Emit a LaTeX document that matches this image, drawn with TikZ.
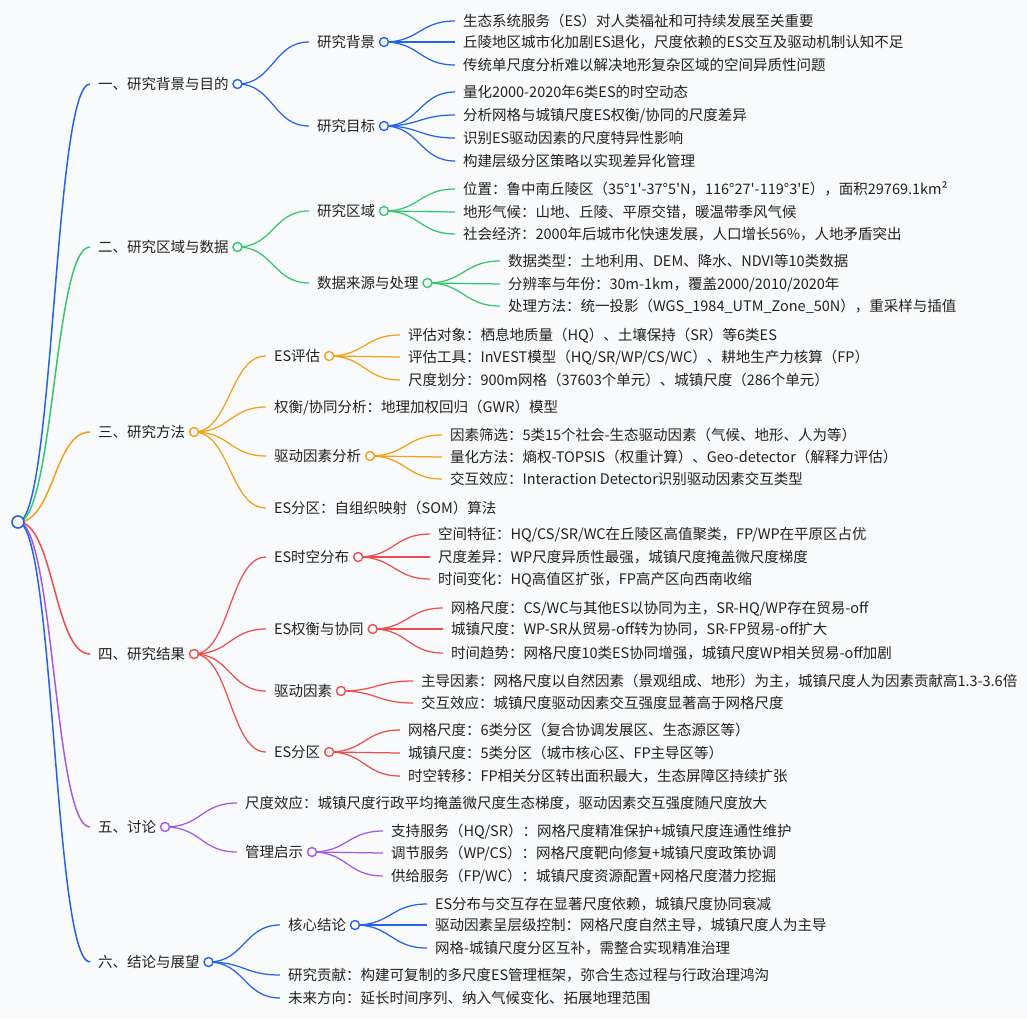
\documentclass[tikz,border=0pt]{standalone}
\usepackage{fontspec}
\newfontfamily\cjk{Noto Sans CJK SC}
\usetikzlibrary{calc}
\definecolor{bgc}{RGB}{249,250,251}
\definecolor{txt}{RGB}{34,34,34}
\definecolor{mblue}{RGB}{37,99,235}
\definecolor{mgreen}{RGB}{52,199,110}
\definecolor{morange}{RGB}{245,160,20}
\definecolor{mred}{RGB}{236,78,78}
\definecolor{mpurple}{RGB}{165,90,230}
\pgfdeclarelayer{bgl}
\pgfdeclarelayer{edges}
\pgfsetlayers{bgl,edges,main}
\begin{document}
\begin{tikzpicture}[x=1pt,y=-1pt,
  big/.style={anchor=west, inner sep=0pt, outer xsep=8pt, outer ysep=0pt, text=txt,
    font=\cjk\fontsize{14.5}{17}\selectfont, text height=12.8pt, text depth=1.75pt},
  leaf/.style={big},
  dot/.style={circle, draw=#1, fill=bgc, line width=1.4pt, minimum size=9pt, inner sep=0pt},
  link/.style={draw=#1, line width=1.25pt,
    to path={let \p1=(\tikztostart), \p2=(\tikztotarget) in
      .. controls ({0.5*\x1+0.5*\x2},\y1) and ({0.5*\x1+0.5*\x2},\y2) .. (\tikztotarget)}},
  mainlink/.style={link=#1, line width=1.5pt},
]
\begin{pgfonlayer}{bgl}
\fill[bgc] (0,0) rectangle (1027,1019);
\end{pgfonlayer}
\useasboundingbox (0,0) rectangle (1027,1019);

% root
\node[dot=mblue, minimum size=12pt, line width=1.6pt] (root) at (18,522) {};

% level 1
\node[big] (A) at (90,84) {一、研究背景与目的};
\node[big] (B) at (90,247) {二、研究区域与数据};
\node[big] (C) at (90,432) {三、研究方法};
\node[big] (D) at (90,654) {四、研究结果};
\node[big] (E) at (90,827) {五、讨论};
\node[big] (F) at (90,962) {六、结论与展望};
\node[dot=mblue] (cA) at ([xshift=1pt]A.east) {};
\node[dot=mgreen] (cB) at ([xshift=1pt]B.east) {};
\node[dot=morange] (cC) at ([xshift=1pt]C.east) {};
\node[dot=mred] (cD) at ([xshift=1pt]D.east) {};
\node[dot=mpurple] (cE) at ([xshift=1pt]E.east) {};
\node[dot=mblue] (cF) at ([xshift=1pt]F.east) {};

% level 2
\node[big] (A1) at (309,42) {研究背景};
\node[big] (A2) at (309,126) {研究目标};
\node[big] (B1) at (309,211) {研究区域};
\node[big] (B2) at (309,283) {数据来源与处理};
\node[big] (C1) at (266,356) {ES评估};
\node[big] (C2) at (266,407) {权衡/协同分析：地理加权回归（GWR）模型};
\node[big] (C3) at (266,456) {驱动因素分析};
\node[big] (C4) at (266,508) {ES分区：自组织映射（SOM）算法};
\node[big] (D1) at (266,557) {ES时空分布};
\node[big] (D2) at (266,629) {ES权衡与协同};
\node[big] (D3) at (266,691) {驱动因素};
\node[big] (D4) at (266,752) {ES分区};
\node[big] (E1) at (237,803) {尺度效应：城镇尺度行政平均掩盖微尺度生态梯度，驱动因素交互强度随尺度放大};
\node[big] (E2) at (237,852) {管理启示};
\node[big] (F1) at (280,925) {核心结论};
\node[big] (F2) at (280,975) {研究贡献：构建可复制的多尺度ES管理框架，弥合生态过程与行政治理鸿沟};
\node[big] (F3) at (280,998) {未来方向：延长时间序列、纳入气候变化、拓展地理范围};
\node[dot=mblue] (cA1) at ([xshift=1pt]A1.east) {};
\node[dot=mblue] (cA2) at ([xshift=1pt]A2.east) {};
\node[dot=mgreen] (cB1) at ([xshift=1pt]B1.east) {};
\node[dot=mgreen] (cB2) at ([xshift=1pt]B2.east) {};
\node[dot=morange] (cC1) at ([xshift=1pt]C1.east) {};
\node[dot=morange] (cC3) at ([xshift=1pt]C3.east) {};
\node[dot=mred] (cD1) at ([xshift=1pt]D1.east) {};
\node[dot=mred] (cD2) at ([xshift=1pt]D2.east) {};
\node[dot=mred] (cD3) at ([xshift=1pt]D3.east) {};
\node[dot=mred] (cD4) at ([xshift=1pt]D4.east) {};
\node[dot=mpurple] (cE2) at ([xshift=1pt]E2.east) {};
\node[dot=mblue] (cF1) at ([xshift=1pt]F1.east) {};

% level 3
\node[leaf] (A1a) at (455,21) {生态系统服务（ES）对人类福祉和可持续发展至关重要};
\node[leaf] (A1b) at (455,42) {丘陵地区城市化加剧ES退化，尺度依赖的ES交互及驱动机制认知不足};
\node[leaf] (A1c) at (455,65) {传统单尺度分析难以解决地形复杂区域的空间异质性问题};
\node[leaf] (A2a) at (455,92) {量化2000-2020年6类ES的时空动态};
\node[leaf] (A2b) at (455,115) {分析网格与城镇尺度ES权衡/协同的尺度差异};
\node[leaf] (A2c) at (455,138) {识别ES驱动因素的尺度特异性影响};
\node[leaf] (A2d) at (455,161) {构建层级分区策略以实现差异化管理};
\node[leaf] (B1a) at (455,189) {位置：鲁中南丘陵区（35°1'-37°5'N，116°27'-119°3'E），面积29769.1km²};
\node[leaf] (B1b) at (455,212) {地形气候：山地、丘陵、平原交错，暖温带季风气候};
\node[leaf] (B1c) at (455,234) {社会经济：2000年后城市化快速发展，人口增长56\%，人地矛盾突出};
\node[leaf] (B2a) at (500,261) {数据类型：土地利用、DEM、降水、NDVI等10类数据};
\node[leaf] (B2b) at (500,284) {分辨率与年份：30m-1km，覆盖2000/2010/2020年};
\node[leaf] (B2c) at (500,306) {处理方法：统一投影（WGS\_1984\_UTM\_Zone\_50N），重采样与插值};
\node[leaf] (C1a) at (400,335) {评估对象：栖息地质量（HQ）、土壤保持（SR）等6类ES};
\node[leaf] (C1b) at (400,357) {评估工具：InVEST模型（HQ/SR/WP/CS/WC）、耕地生产力核算（FP）};
\node[leaf] (C1c) at (400,380) {尺度划分：900m网格（37603个单元）、城镇尺度（286个单元）};
\node[leaf] (C3a) at (442,435) {因素筛选：5类15个社会-生态驱动因素（气候、地形、人为等）};
\node[leaf] (C3b) at (442,457) {量化方法：熵权-TOPSIS（权重计算）、Geo-detector（解释力评估）};
\node[leaf] (C3c) at (442,479) {交互效应：Interaction Detector识别驱动因素交互类型};
\node[leaf] (D1a) at (430,534) {空间特征：HQ/CS/SR/WC在丘陵区高值聚类，FP/WP在平原区占优};
\node[leaf] (D1b) at (430,557) {尺度差异：WP尺度异质性最强，城镇尺度掩盖微尺度梯度};
\node[leaf] (D1c) at (430,579) {时间变化：HQ高值区扩张，FP高产区向西南收缩};
\node[leaf] (D2a) at (443,608) {网格尺度：CS/WC与其他ES以协同为主，SR-HQ/WP存在贸易-off};
\node[leaf] (D2b) at (443,629) {城镇尺度：WP-SR从贸易-off转为协同，SR-FP贸易-off扩大};
\node[leaf] (D2c) at (443,653) {时间趋势：网格尺度10类ES协同增强，城镇尺度WP相关贸易-off加剧};
\node[leaf] (D3a) at (413,681) {主导因素：网格尺度以自然因素（景观组成、地形）为主，城镇尺度人为因素贡献高1.3-3.6倍};
\node[leaf] (D3b) at (413,703) {交互效应：城镇尺度驱动因素交互强度显著高于网格尺度};
\node[leaf] (D4a) at (400,730) {网格尺度：6类分区（复合协调发展区、生态源区等）};
\node[leaf] (D4b) at (400,753) {城镇尺度：5类分区（城市核心区、FP主导区等）};
\node[leaf] (D4c) at (400,776) {时空转移：FP相关分区转出面积最大，生态屏障区持续扩张};
\node[leaf] (E2a) at (383,831) {支持服务（HQ/SR）：网格尺度精准保护+城镇尺度连通性维护};
\node[leaf] (E2b) at (383,853) {调节服务（WP/CS）：网格尺度靶向修复+城镇尺度政策协调};
\node[leaf] (E2c) at (383,876) {供给服务（FP/WC）：城镇尺度资源配置+网格尺度潜力挖掘};
\node[leaf] (F1a) at (427,904) {ES分布与交互存在显著尺度依赖，城镇尺度协同衰减};
\node[leaf] (F1b) at (427,925) {驱动因素呈层级控制：网格尺度自然主导，城镇尺度人为主导};
\node[leaf] (F1c) at (427,948) {网格-城镇尺度分区互补，需整合实现精准治理};

\begin{pgfonlayer}{edges}
% root links
\draw[mainlink=mblue] (root.center) to (A.west);
\draw[mainlink=mgreen] (root.center) to (B.west);
\draw[mainlink=morange] (root.center) to (C.west);
\draw[mainlink=mred] (root.center) to (D.west);
\draw[mainlink=mpurple] (root.center) to (E.west);
\draw[mainlink=mblue] (root.center) to (F.west);
% level 2 links
\foreach \kid/\mom in {A1/A,A2/A} \draw[link=mblue] (c\mom.center) to (\kid.west);
\foreach \kid/\mom in {B1/B,B2/B} \draw[link=mgreen] (c\mom.center) to (\kid.west);
\foreach \kid/\mom in {C1/C,C2/C,C3/C,C4/C} \draw[link=morange] (c\mom.center) to (\kid.west);
\foreach \kid/\mom in {D1/D,D2/D,D3/D,D4/D} \draw[link=mred] (c\mom.center) to (\kid.west);
\foreach \kid/\mom in {E1/E,E2/E} \draw[link=mpurple] (c\mom.center) to (\kid.west);
\foreach \kid/\mom in {F1/F,F2/F,F3/F} \draw[link=mblue] (c\mom.center) to (\kid.west);
% level 3 links
\foreach \kid/\mom in {A1a/A1,A1b/A1,A1c/A1,A2a/A2,A2b/A2,A2c/A2,A2d/A2,F1a/F1,F1b/F1,F1c/F1}
  \draw[link=mblue] (c\mom.center) to (\kid.west);
\foreach \kid/\mom in {B1a/B1,B1b/B1,B1c/B1,B2a/B2,B2b/B2,B2c/B2}
  \draw[link=mgreen] (c\mom.center) to (\kid.west);
\foreach \kid/\mom in {C1a/C1,C1b/C1,C1c/C1,C3a/C3,C3b/C3,C3c/C3}
  \draw[link=morange] (c\mom.center) to (\kid.west);
\foreach \kid/\mom in {D1a/D1,D1b/D1,D1c/D1,D2a/D2,D2b/D2,D2c/D2,D3a/D3,D3b/D3,D4a/D4,D4b/D4,D4c/D4}
  \draw[link=mred] (c\mom.center) to (\kid.west);
\foreach \kid/\mom in {E2a/E2,E2b/E2,E2c/E2}
  \draw[link=mpurple] (c\mom.center) to (\kid.west);
\end{pgfonlayer}
\end{tikzpicture}
\end{document}
